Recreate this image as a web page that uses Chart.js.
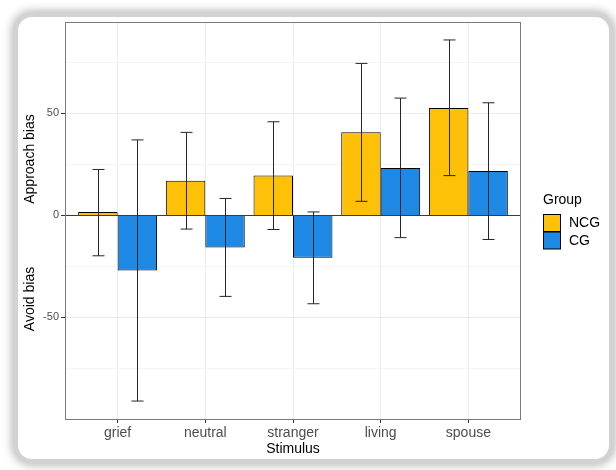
<!DOCTYPE html>
<html lang="en">
<head>
    <meta charset="UTF-8">
    <title>Approach / avoid bias by stimulus</title>
    <script src="https://cdn.jsdelivr.net/npm/chart.js"></script>
    <style>
        html, body { margin: 0; padding: 0; background: #ffffff; }
        .card {
            position: absolute; left: 14px; top: 13px; width: 599px; height: 450px;
            box-sizing: border-box; background: #fff;
            border: 4px solid #d2d2d2; border-radius: 18px;
            box-shadow: 0 0 9px 3px rgba(0, 0, 0, 0.25);
        }
        #biasChart { position: absolute; left: 0; top: 0; }
    </style>
</head>
<body>
    <div class="card"></div>
    <canvas id="biasChart" width="616" height="470"></canvas>

    <script>
        // data
        const stimuli = ['grief', 'neutral', 'stranger', 'living', 'spouse'];
        const groups = ['NCG', 'CG'];
        const ncgMean = [1.7, 17, 19.6, 40.7, 52.6];
        const ncgLow = [-19.8, -6.7, -6.9, 6.9, 19.5];
        const ncgHigh = [22.5, 40.7, 45.9, 74.5, 86];
        const cgMean = [-27, -15.7, -20.7, 23.2, 21.8];
        const cgLow = [-91, -39.7, -43.3, -10.9, -11.8];
        const cgHigh = [37, 8.3, 1.7, 57.5, 55.2];
        const yTicks = [-50, 0, 50];
        const yMinor = [-75, -25, 25, 75];

        const FONT = '"Liberation Sans", Arial, Helvetica, sans-serif';

        // error bars, zero line and panel border
        const extras = {
            id: 'extras',
            afterDatasetsDraw(chart) {
                const {ctx, chartArea: a, scales: {y}} = chart;
                ctx.save();
                const y0 = Math.round(y.getPixelForValue(0)) + 0.5;
                ctx.strokeStyle = '#3a3a3a';
                ctx.lineWidth = 1;
                ctx.beginPath();
                ctx.moveTo(a.left, y0); ctx.lineTo(a.right, y0);
                ctx.stroke();

                ctx.strokeStyle = '#262626';
                chart.data.datasets.forEach((ds, di) => {
                    const meta = chart.getDatasetMeta(di);
                    meta.data.forEach((bar, i) => {
                        const x = Math.round(bar.x) + 0.5;
                        const top = y.getPixelForValue(ds.errHigh[i]);
                        const bot = y.getPixelForValue(ds.errLow[i]);
                        ctx.beginPath();
                        ctx.moveTo(x, top); ctx.lineTo(x, bot);
                        ctx.moveTo(x - 6, top); ctx.lineTo(x + 6, top);
                        ctx.moveTo(x - 6, bot); ctx.lineTo(x + 6, bot);
                        ctx.stroke();
                    });
                });

                ctx.strokeStyle = '#7a7a7a';
                ctx.strokeRect(a.left + 0.5, a.top + 0.5, a.right - a.left - 1, a.bottom - a.top);
                ctx.restore();
            },
            afterDraw(chart) {
                const ctx = chart.ctx;
                ctx.save();
                // y axis captions
                ctx.fillStyle = '#000';
                ctx.font = '14px ' + FONT;
                ctx.textAlign = 'center';
                ctx.textBaseline = 'middle';
                [['Approach bias', 159], ['Avoid bias', 299]].forEach(([t, cy]) => {
                    ctx.save();
                    ctx.translate(30, cy);
                    ctx.rotate(-Math.PI / 2);
                    ctx.fillText(t, 0, 0);
                    ctx.restore();
                });

                // legend
                ctx.textAlign = 'left';
                ctx.fillText('Group', 543, 200);
                chart.data.datasets.forEach((ds, i) => {
                    const ky = 214.5 + i * 17.5;
                    ctx.fillStyle = ds.backgroundColor;
                    ctx.fillRect(543.5, ky, 17, 17);
                    ctx.strokeStyle = '#000';
                    ctx.lineWidth = 1;
                    ctx.strokeRect(543.5, ky, 17, 17);
                    ctx.fillStyle = '#000';
                    ctx.fillText(ds.label, 569, ky + 9);
                });
                ctx.restore();
            }
        };

        const toPoints = vals => vals.map((v, i) => ({x: i, y: v}));

        new Chart(document.getElementById('biasChart'), {
            type: 'bar',
            data: {
                datasets: [{
                    label: groups[0],
                    data: toPoints(ncgMean),
                    errLow: ncgLow,
                    errHigh: ncgHigh,
                    backgroundColor: '#FFC107',
                    borderColor: '#000',
                    borderWidth: 1
                }, {
                    label: groups[1],
                    data: toPoints(cgMean),
                    errLow: cgLow,
                    errHigh: cgHigh,
                    backgroundColor: '#1E88E5',
                    borderColor: '#000',
                    borderWidth: 1
                }]
            },
            options: {
                responsive: false,
                animation: false,
                categoryPercentage: 0.9,
                barPercentage: 1,
                layout: { padding: { top: 22, right: 95, left: 0, bottom: 0 } },
                plugins: { legend: { display: false }, tooltip: { enabled: false } },
                scales: {
                    x: {
                        type: 'linear',
                        offset: false,
                        min: -0.6,
                        max: stimuli.length - 0.4,
                        afterBuildTicks: s => { s.ticks = stimuli.map((_, i) => ({value: i})); },
                        afterFit: s => { s.height = 51; },
                        grid: { offset: false, color: '#EBEBEB', tickColor: '#333', tickLength: 4 },
                        border: { display: false },
                        ticks: {
                            callback: v => stimuli[v],
                            color: '#4D4D4D',
                            font: { family: FONT, size: 14 },
                            padding: 2,
                            maxRotation: 0
                        },
                        title: {
                            display: true,
                            text: 'Stimulus',
                            color: '#000',
                            font: { family: FONT, size: 14 },
                            padding: { top: 0, bottom: 12 }
                        }
                    },
                    y: {
                        min: -99.8,
                        max: 94.8,
                        afterBuildTicks: s => {
                            s.ticks = yMinor.concat(yTicks).sort((a, b) => a - b).map(v => ({value: v}));
                        },
                        afterFit: s => { s.width = 65; },
                        grid: {
                            color: c => yTicks.includes(c.tick.value) ? '#EBEBEB' : '#F4F4F4',
                            tickColor: c => yTicks.includes(c.tick.value) ? '#333' : 'rgba(0,0,0,0)',
                            tickLength: 4
                        },
                        border: { display: false },
                        ticks: {
                            callback: v => yTicks.includes(v) ? String(v) : '',
                            color: '#4D4D4D',
                            font: { family: FONT, size: 11 },
                            padding: 2
                        }
                    }
                }
            },
            plugins: [extras]
        });
    </script>
</body>
</html>
